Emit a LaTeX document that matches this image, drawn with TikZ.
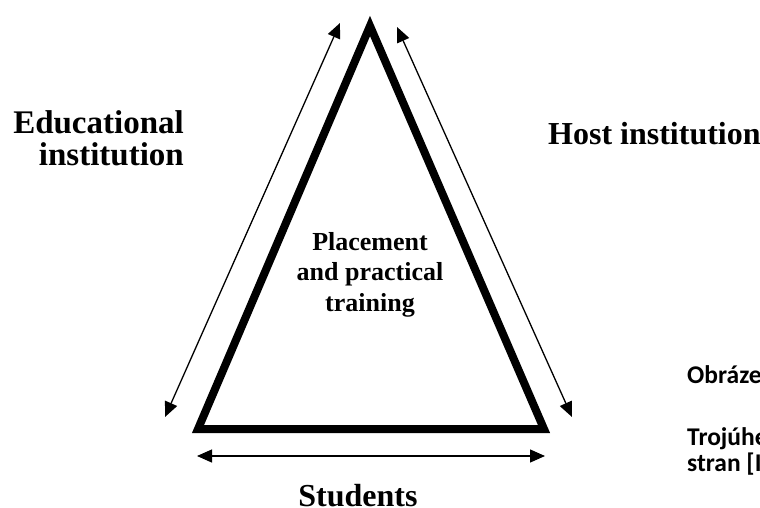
\documentclass[tikz,border=0pt]{standalone}
\usepackage{fontspec}
\setmainfont{Liberation Serif}
\newfontfamily\capfont{Carlito}
\usetikzlibrary{arrows.meta}
\tikzset{
  side/.style={line width=8pt, line join=miter},
  link/.style={line width=1.3pt, {Triangle[length=15pt,width=13pt]}-{Triangle[length=15pt,width=13pt]}},
  party/.style={font=\fontsize{32}{32}\selectfont\bfseries, inner sep=0pt},
  captxt/.style={font=\fontsize{25.5}{28}\selectfont\capfont\bfseries, inner sep=0pt, anchor=base west}
}
\begin{document}
\begin{tikzpicture}[x=1pt, y=-1pt]
  \useasboundingbox (0,0) rectangle (760,508);
  \coordinate (apex) at (370,26);
  \coordinate (bl) at (198,429);
  \coordinate (br) at (544,429);
  \draw[side] (apex) -- (bl) -- (br) -- cycle;
  % arrows along the sides
  \coordinate (l1) at (165,417);
  \coordinate (l2) at (340,23);
  \coordinate (r1) at (397,27);
  \coordinate (r2) at (572,417);
  \coordinate (b1) at (197,456);
  \coordinate (b2) at (545,456);
  \begin{scope}[link]
    \draw (l1) to (l2);
    \draw (r1) to (r2);
    \draw (b1) to (b2);
  \end{scope}
  \node[party, font=\fontsize{33}{32}\selectfont\bfseries, anchor=base east, align=right]
    (edu) at (184,165) {Educational\\institution};
  \node[party, anchor=base west] (host) at (548,145) {Host institution};
  \node[party, anchor=base] (students) at (358,506) {Students};
  \node[font=\fontsize{26}{30.5}\selectfont\bfseries, inner sep=0pt, anchor=base, align=center]
    (place) at (370,311) {Placement\\and practical\\training};
  \node[captxt] (cap1) at (687,383) {Obrázek};
  \node[captxt] (cap2) at (687,445) {Trojúhelník};
  \node[captxt] (cap3) at (687,471) {stran [I]};
\end{tikzpicture}
\end{document}
